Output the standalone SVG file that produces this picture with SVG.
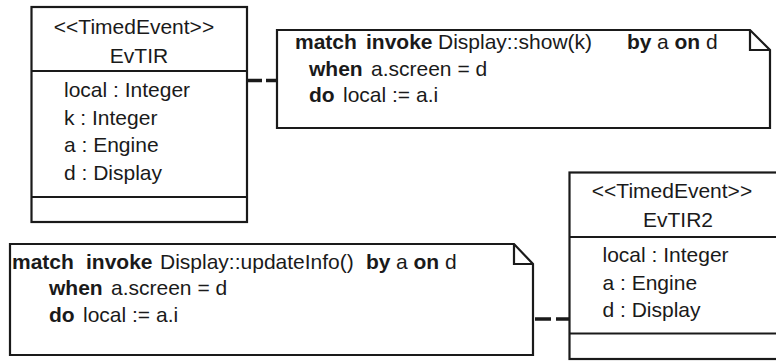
<svg xmlns="http://www.w3.org/2000/svg" width="776" height="361" viewBox="0 0 776 361">
<style>
text{font-family:"Liberation Sans",Arial,sans-serif;font-size:21px;fill:#1a1a1a}
.b{font-weight:bold}
.mid{text-anchor:middle}
.box{fill:#fff;stroke:#1a1a1a;stroke-width:2.2}
.ln{fill:none;stroke:#1a1a1a;stroke-width:2.2}
.conn{fill:none;stroke:#1a1a1a;stroke-width:3.5}
</style>
<rect width="776" height="361" fill="#fff"/>
<g id="EvTIR">
<rect class="box" x="31.5" y="7" width="215.5" height="215"/>
<line class="ln" x1="31.5" y1="71" x2="247" y2="71"/>
<line class="ln" x1="31.5" y1="197" x2="247" y2="197"/>
<text class="mid" x="134" y="34">&lt;&lt;TimedEvent&gt;&gt;</text>
<text class="mid" x="139" y="62.5">EvTIR</text>
<text x="64" y="97">local : Integer</text>
<text x="64" y="124.5">k : Integer</text>
<text x="64" y="152">a : Engine</text>
<text x="64" y="179.5">d : Display</text>
</g>
<g id="EvTIR2">
<rect class="box" x="569.5" y="172.5" width="215" height="186.5"/>
<line class="ln" x1="569.5" y1="237" x2="784" y2="237"/>
<line class="ln" x1="569.5" y1="333.5" x2="784" y2="333.5"/>
<text class="mid" x="672" y="198">&lt;&lt;TimedEvent&gt;&gt;</text>
<text class="mid" x="678" y="226.5">EvTIR2</text>
<text x="602.5" y="262">local : Integer</text>
<text x="602.5" y="289.5">a : Engine</text>
<text x="602.5" y="317">d : Display</text>
</g>
<g id="note1">
<path class="box" d="M277,30 H750 L770,50 V128 H277 Z"/>
<path class="ln" d="M750,30 V50 H770"/>
<text y="49"><tspan class="b" x="295">match</tspan><tspan class="b" x="366">invoke</tspan><tspan x="438">Display::show(k)</tspan><tspan class="b" x="627">by</tspan><tspan x="657">a</tspan><tspan class="b" x="674.5">on</tspan><tspan x="706">d</tspan></text>
<text y="75.5"><tspan class="b" x="309">when</tspan><tspan x="371">a.screen = d</tspan></text>
<text y="102"><tspan class="b" x="309">do</tspan><tspan x="343">local := a.i</tspan></text>
</g>
<g id="note2">
<path class="box" d="M10,244 H514 L533,264 V355 H10 Z"/>
<path class="ln" d="M514,244 V264 H533"/>
<text y="268.5"><tspan class="b" x="12">match</tspan><tspan class="b" x="86">invoke</tspan><tspan x="160">Display::updateInfo()</tspan><tspan class="b" x="366">by</tspan><tspan x="396">a</tspan><tspan class="b" x="413.5">on</tspan><tspan x="445">d</tspan></text>
<text y="295"><tspan class="b" x="49">when</tspan><tspan x="111">a.screen = d</tspan></text>
<text y="321.5"><tspan class="b" x="49">do</tspan><tspan x="83">local := a.i</tspan></text>
</g>
<g id="connectors">
<line class="conn" x1="247" y1="80.5" x2="277" y2="80.5" stroke-dasharray="15 4"/>
<line class="conn" x1="535" y1="319" x2="569.5" y2="319" stroke-dasharray="16 5"/>
</g>
</svg>
